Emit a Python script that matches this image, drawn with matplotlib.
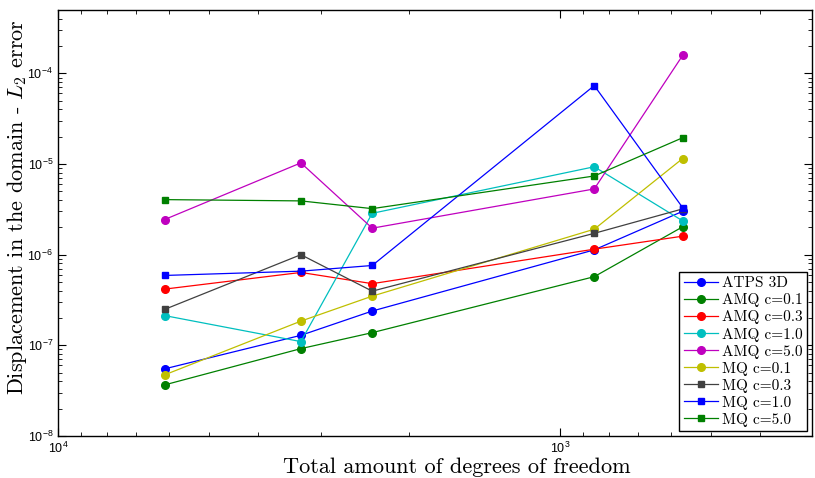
import matplotlib
matplotlib.use("Agg")
import matplotlib.pyplot as plt
from matplotlib.ticker import LogLocator, NullFormatter

# ---- data ----
dofs = [6135, 3283, 2367, 855, 570]

atps_3d = [5.5e-8, 1.29e-7, 2.39e-7, 1.13e-6, 3.01e-6]
amq_01 = [3.66e-8, 9.2e-8, 1.38e-7, 5.72e-7, 2.03e-6]
amq_03 = [4.17e-7, 6.37e-7, 4.79e-7, 1.15e-6, 1.60e-6]
amq_10 = [2.13e-7, 1.10e-7, 2.86e-6, 9.33e-6, 2.36e-6]
amq_50 = [2.44e-6, 1.03e-5, 1.96e-6, 5.31e-6, 1.58e-4]
mq_01 = [4.72e-8, 1.85e-7, 3.49e-7, 1.91e-6, 1.15e-5]
mq_03 = [2.49e-7, 1.0e-6, 3.96e-7, 1.72e-6, 3.2e-6]
mq_10 = [5.9e-7, 6.58e-7, 7.6e-7, 7.33e-5, 3.3e-6]
mq_50 = [4.05e-6, 3.92e-6, 3.22e-6, 7.38e-6, 1.95e-5]

series = [
    ("ATPS 3D", atps_3d, (0, 0, 1), "o"),
    ("AMQ c=0.1", amq_01, (0, 0.5, 0), "o"),
    ("AMQ c=0.3", amq_03, (1, 0, 0), "o"),
    ("AMQ c=1.0", amq_10, (0, 0.75, 0.75), "o"),
    ("AMQ c=5.0", amq_50, (0.75, 0, 0.75), "o"),
    ("MQ c=0.1", mq_01, (0.75, 0.75, 0), "o"),
    ("MQ c=0.3", mq_03, (0.25, 0.25, 0.25), "s"),
    ("MQ c=1.0", mq_10, (0, 0, 1), "s"),
    ("MQ c=5.0", mq_50, (0, 0.5, 0), "s"),
]

plt.rcParams["mathtext.fontset"] = "custom"
plt.rcParams["mathtext.rm"] = "Liberation Sans"
plt.rcParams["mathtext.it"] = "Liberation Sans:italic"
plt.rcParams["font.family"] = ["Liberation Sans", "DejaVu Sans"]
plt.rcParams["axes.unicode_minus"] = True

fig = plt.figure(figsize=(8.15, 4.78), dpi=100)
ax = fig.add_axes([58 / 815, 1 - 436 / 478, (812 - 58) / 815, (436 - 10) / 478])

for label, vals, col, mk in series:
    ax.plot(dofs, vals, color=col, marker=mk, ms=5.5 if mk == "o" else 5.0,
            mec=col, mfc=col, lw=0.9, label=label)

ax.set_xscale("log")
ax.set_yscale("log")
ax.set_xlim(1e4, 315)
ax.set_ylim(1e-8, 5e-4)

ax.xaxis.set_minor_formatter(NullFormatter())
ax.yaxis.set_minor_formatter(NullFormatter())
ax.xaxis.set_minor_locator(LogLocator(base=10, subs=range(2, 10)))
ax.yaxis.set_minor_locator(LogLocator(base=10, subs=range(2, 10)))

ax.tick_params(which="both", direction="in", top=True, right=True, labelsize=9)
ax.tick_params(which="major", length=6, width=0.8)
ax.tick_params(which="minor", length=3, width=0.6)
for s in ax.spines.values():
    s.set_linewidth(1.0)

xl = ax.set_xlabel("Total amount of degrees of freedom", fontsize=16,
                   family="cmr10")
yl = ax.set_ylabel("Displacement in the domain - $L_2$ error", fontsize=16,
                   family="cmr10")
xl.set_math_fontfamily("cm")
yl.set_math_fontfamily("cm")
ax.xaxis.set_label_coords((457 - 58) / 754, (436 - 457) / 426)
ax.yaxis.set_label_coords((29 - 58) / 754, (436 - 207) / 426)

leg = ax.legend(loc="lower right", prop={"family": "cmr10", "size": 11},
                fancybox=False, edgecolor="black", framealpha=1,
                labelspacing=0.2, handlelength=2.2, handletextpad=0.3,
                borderpad=0.3, borderaxespad=0.3)
leg.get_frame().set_linewidth(1.0)

fig.savefig("out.png", dpi=100)
